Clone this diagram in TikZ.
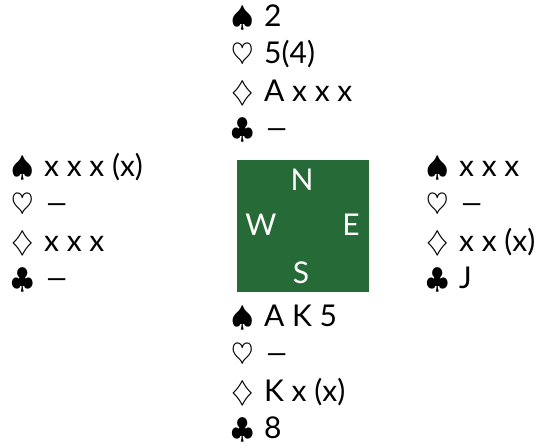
\documentclass[tikz,border=0pt]{standalone}
\usepackage{fontspec}
\setmainfont{Lato}
\newfontfamily\dashfont[FakeStretch=1.45]{Lato}
\usetikzlibrary{positioning}
\definecolor{felt}{RGB}{38,106,56}
\newcommand{\void}{{\dashfont –}}
\newcommand{\suit}[1]{{\fontsize{14}{14}\selectfont$#1$}}
\newcommand{\hand}[4]{%
  \renewcommand{\arraystretch}{1.25}%
  \begin{tabular}[t]{@{}l@{\hspace{5pt}}l@{}}
    \suit{\spadesuit} & #1\\ \suit{\heartsuit} & #2\\ \suit{\diamondsuit} & #3\\ \suit{\clubsuit} & #4
  \end{tabular}}
\tikzset{
  hand/.style={anchor=base west, inner sep=0pt, font=\fontsize{15}{15}\selectfont},
  board/.style={fill=felt, minimum size=66pt, inner sep=0pt},
  seat/.style={text=white, inner sep=0pt, font=\fontsize{15}{15}\selectfont}
}
\begin{document}
\begin{tikzpicture}[x=0.5pt,y=-0.5pt]
  \useasboundingbox (0,0) rectangle (548,447);
  % table
  \node[board] (board) at (303,226) {};
  \node[seat] (n) at (302,180) {N};
  \node[seat] (w) at (261,225) {W};
  \node[seat] (e) at (351,225) {E};
  \node[seat] (s) at (301,273) {S};
  % hands
  \node[hand] (north) at (231.4,26) {\hand{2}{5(4)}{A x x x}{\void}};
  \node[hand] (west) at (11.4,176) {\hand{x x x (x)}{\void}{x x x}{\void}};
  \node[hand] (east) at (426.4,176) {\hand{x x x}{\void}{x x (x)}{J}};
  \node[hand] (south) at (231.4,326) {\hand{A K 5}{\void}{K x (x)}{8}};
\end{tikzpicture}
\end{document}
